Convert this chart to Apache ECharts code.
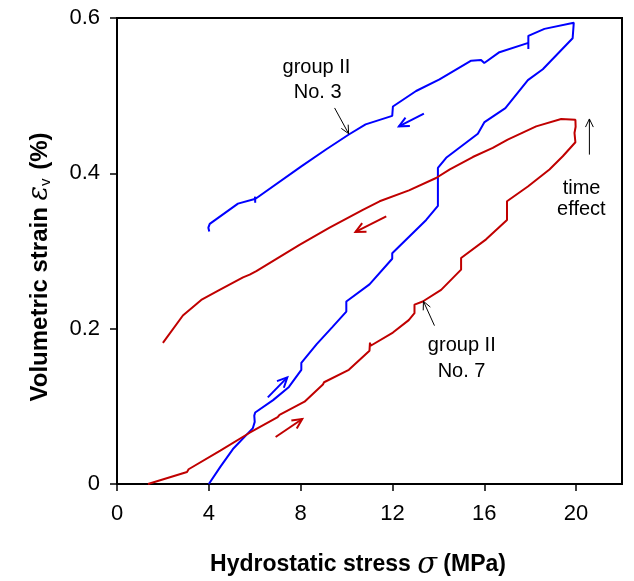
<!DOCTYPE html>
<html>
<head>
<meta charset="utf-8">
<script src="https://cdn.jsdelivr.net/npm/echarts@6/dist/echarts.min.js"></script>
<style>html,body{margin:0;padding:0;background:#fff}#c{width:634px;height:581px}</style>
</head>
<body>
<div id="c"></div>
<script>
// ---- data (x = hydrostatic stress MPa, y = volumetric strain %) ----
var xTicks = [0, 4, 8, 12, 16, 20];
var yTicks = [0, 0.2, 0.4, 0.6];

// group II No. 3 (blue): loading then unloading
var no3Loading = [
  [4.0,0.0],[4.5,0.022],[5.05,0.045],[5.63,0.063],[5.92,0.072],[6.0,0.080],[5.98,0.088],[6.02,0.092],
  [6.8,0.108],[7.49,0.125],[8.03,0.147],[8.03,0.156],[8.7,0.180],[9.38,0.202],[9.99,0.222],[9.99,0.235],
  [11.0,0.257],[11.99,0.290],[11.99,0.297],[13.47,0.340],[13.98,0.358],[13.98,0.407],[14.34,0.420],
  [15.72,0.451],[16.01,0.466],[16.92,0.484],[17.9,0.520],[18.55,0.534],[19.85,0.574],[19.9,0.594]
];
var no3Unloading = [
  [19.9,0.594],[18.62,0.586],[17.92,0.577],[17.92,0.560],[17.92,0.568],[16.66,0.556],[16.0,0.542],
  [15.86,0.546],[15.43,0.545],[14.05,0.521],[13.98,0.519],[13.03,0.506],[12.02,0.486],[11.99,0.474],
  [10.83,0.463],[10.1,0.450],[9.12,0.431],[8.03,0.409],[7.95,0.407],[6.02,0.367],[6.02,0.362],
  [6.02,0.370],[6.0,0.367],[5.27,0.361],[4.04,0.335],[3.98,0.330],[4.02,0.325]
];
// group II No. 7 (red): loading then unloading
var no7Loading = [
  [1.35,0.0],[3.05,0.0155],[3.12,0.019],[4.5,0.043],[5.78,0.066],[7.0,0.086],[7.08,0.089],[7.15,0.088],
  [8.17,0.106],[8.97,0.128],[9.02,0.131],[10.1,0.147],[11.0,0.1717],[11.02,0.182],[11.05,0.178],
  [12.02,0.195],[12.71,0.211],[12.96,0.220],[12.96,0.231],[13.32,0.235],[14.12,0.250],[14.99,0.276],
  [14.99,0.291],[16.08,0.315],[16.99,0.340],[16.99,0.364],[17.9,0.383],[18.84,0.405],[19.42,0.422],
  [19.97,0.440],[19.93,0.452],[19.98,0.460],[19.97,0.469]
];
var no7Unloading = [
  [19.97,0.469],[19.35,0.470],[18.26,0.4605],[17.02,0.4434],[16.37,0.4327],[15.5,0.421],[14.5,0.405],
  [13.9,0.394],[12.72,0.378],[11.44,0.364],[10.71,0.353],[9.26,0.330],[7.95,0.308],[6.07,0.274],
  [5.78,0.2695],[5.49,0.266],[4.47,0.250],[3.67,0.237],[2.87,0.217],[2.0,0.1816]
];

// annotations in data coordinates
var dirArrows = [
  {from:[13.37,0.477], to:[12.28,0.4605], color:'#0000ff'},
  {from:[11.73,0.3446], to:[10.39,0.3245], color:'#c00000'},
  {from:[6.57,0.1115], to:[7.42,0.1373], color:'#0000ff'},
  {from:[6.91,0.0605], to:[8.07,0.0837], color:'#c00000'}
];
var labelArrows = [
  {from:[9.48,0.4842], to:[10.09,0.4511]},
  {from:[13.83,0.2039], to:[13.35,0.2352]},
  {from:[20.58,0.4241], to:[20.58,0.470]}
];
var labels = [
  {text:'group II', at:[8.69,0.5361]}, {text:'No. 3', at:[8.74,0.504]},
  {text:'group II', at:[15.02,0.1785]}, {text:'No. 7', at:[15.01,0.145]},
  {text:'time', at:[20.24,0.381]}, {text:'effect', at:[20.23,0.353]}
];

var FONT = 'Liberation Sans, Arial, sans-serif';
var chart = echarts.init(document.getElementById('c'), null, {renderer:'canvas'});

var option = {
  animation: false,
  backgroundColor: '#fff',
  grid: {left:117, right:12, top:18, bottom:97, show:true, borderColor:'#000', borderWidth:2, containLabel:false, outerBoundsMode:'none'},
  xAxis: {
    type:'value', min:0, max:22, interval:4,
    axisLine:{show:true, onZero:false, lineStyle:{color:'#000', width:2}},
    axisTick:{show:true, inside:false, length:7, lineStyle:{color:'#000', width:1.5}, customValues: xTicks},
    axisLabel:{color:'#000', fontSize:22, fontFamily:FONT, margin:19, customValues: xTicks},
    splitLine:{show:false}
  },
  yAxis: {
    type:'value', min:0, max:0.6, interval:0.2,
    axisLine:{show:true, onZero:false, lineStyle:{color:'#000', width:2}},
    axisTick:{show:true, inside:false, length:7, lineStyle:{color:'#000', width:1.5}, customValues: yTicks},
    axisLabel:{color:'#000', fontSize:22, fontFamily:FONT, margin:17, customValues: yTicks,
      formatter:function(v){ return v === 0 ? '0' : v.toFixed(1); }},
    splitLine:{show:false}
  },
  series: [
    {type:'line', name:'No. 3', data:no3Loading.concat(no3Unloading.slice(1)), showSymbol:false, symbol:'none',
     lineStyle:{color:'#0000ff', width:2}, clip:false},
    {type:'line', name:'No. 7', data:no7Loading.concat(no7Unloading.slice(1)), showSymbol:false, symbol:'none',
     lineStyle:{color:'#c00000', width:2}, clip:false}
  ]
};
chart.setOption(option);

function px(p){ return chart.convertToPixel({gridIndex:0}, p); }
function arrowEls(a, color, width, headLen){
  var p0 = px(a.from), p1 = px(a.to);
  var ang = Math.atan2(p1[1]-p0[1], p1[0]-p0[0]);
  var s = 0.45;
  var h1 = [p1[0]-headLen*Math.cos(ang-s), p1[1]-headLen*Math.sin(ang-s)];
  var h2 = [p1[0]-headLen*Math.cos(ang+s), p1[1]-headLen*Math.sin(ang+s)];
  return [
    {type:'polyline', shape:{points:[p0,p1]}, style:{stroke:color, lineWidth:width, fill:null}, z:10},
    {type:'polyline', shape:{points:[h1,p1,h2]}, style:{stroke:color, lineWidth:width, fill:null}, z:10}
  ];
}
var g = [];
dirArrows.forEach(function(a){ g = g.concat(arrowEls(a, a.color, 2, 11)); });
labelArrows.forEach(function(a){ g = g.concat(arrowEls(a, '#000', 1, 9)); });
labels.forEach(function(l){
  var p = px(l.at);
  g.push({type:'text', x:p[0], y:p[1], style:{text:l.text, fill:'#000', font:'20px ' + FONT, align:'center', verticalAlign:'middle'}, z:10});
});
// axis titles
g.push({type:'text', x:358, y:565, style:{
  text:'{b|Hydrostatic stress }{s|σ}{b| (MPa)}', align:'center', verticalAlign:'middle',
  rich:{b:{fontSize:23, fontWeight:'bold', fontFamily:FONT, fill:'#000'},
        s:{fontSize:29, fontStyle:'italic', fontFamily:'DejaVu Serif, Liberation Serif, serif', fill:'#000'}}}, z:10});
g.push({type:'text', x:40, y:267, rotation:Math.PI/2, style:{
  text:'{b|Volumetric strain }{e|ε}{v|v}{b| (%)}', align:'center', verticalAlign:'middle',
  rich:{b:{fontSize:24, fontWeight:'bold', fontFamily:FONT, fill:'#000'},
        e:{fontSize:27, fontStyle:'italic', fontFamily:'DejaVu Serif, Liberation Serif, serif', fill:'#000'},
        v:{fontSize:15, fontFamily:FONT, fill:'#000', padding:[12,2,0,0]}}}, z:10});
chart.setOption({graphic:{elements:g}});
</script>
</body>
</html>
